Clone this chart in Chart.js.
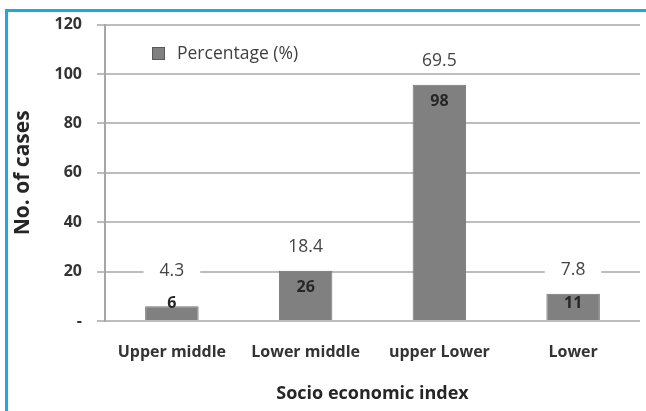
<!DOCTYPE html>
<html>
<head>
<meta charset="utf-8">
<script src="https://cdn.jsdelivr.net/npm/chart.js@4.4.1/dist/chart.umd.min.js"></script>
<style>
  html, body { margin:0; padding:0; background:#fff; overflow:hidden; }
  #wrap { position:relative; width:646px; height:411px; }
  #frame { position:absolute; left:5px; top:9px; width:700px; height:500px;
           border-left:3px solid #19a9e5; border-top:3px solid #19a9e5; pointer-events:none; }
  canvas { position:absolute; left:0; top:0; }
</style>
</head>
<body>
<div id="wrap">
  <canvas id="c" width="646" height="411"></canvas>
  <div id="frame"></div>
</div>
<script>
// ---- data ----
const categories   = ['Upper middle', 'Lower middle', 'upper Lower', 'Lower'];
const barHeights   = [6, 20.3, 95.6, 11];          // bar tops as drawn
const caseLabels   = ['6', '26', '98', '11'];      // labels inside bars
const percentLabels = ['4.3', '18.4', '69.5', '7.8'];
const yTickLabels  = { 0: '-', 20: '20', 40: '40', 60: '60', 80: '80', 100: '100', 120: '120' };
const seriesName   = 'Percentage (%)';

const FONT = "'Open Sans', 'DejaVu Sans', sans-serif";

const labelPlugin = {
  id: 'labels',
  afterDatasetsDraw(chart) {
    const ctx = chart.ctx;
    const meta = chart.getDatasetMeta(0);
    const base = chart.scales.y.getPixelForValue(0);
    ctx.save();
    meta.data.forEach((bar, i) => {
      const x = bar.x, top = bar.y;
      // count label
      const cy = Math.min(top + 17, base - 18);
      ctx.font = "bold 16px " + FONT;
      ctx.fillStyle = '#262626';
      ctx.textAlign = 'center';
      ctx.textBaseline = 'middle';
      ctx.fillText(caseLabels[i], x, cy);
      // percent label with white box
      const py = Math.min(top, cy - 8) - 24;
      ctx.font = "17.5px " + FONT;
      const w = ctx.measureText(percentLabels[i]).width + 32;
      ctx.fillStyle = '#ffffff';
      ctx.fillRect(x - w / 2, py - 11, w, 22);
      ctx.fillStyle = '#444444';
      ctx.fillText(percentLabels[i], x, py);
    });
    // legend inside plot
    ctx.fillStyle = '#808080';
    ctx.strokeStyle = '#5a5a5a';
    ctx.lineWidth = 1;
    ctx.fillRect(152, 47, 13, 13);
    ctx.strokeRect(152.5, 47.5, 12, 12);
    ctx.font = "17.5px " + FONT;
    ctx.fillStyle = '#404040';
    ctx.textAlign = 'left';
    ctx.textBaseline = 'middle';
    ctx.fillText(seriesName, 177, 54);
    ctx.restore();
  }
};

new Chart(document.getElementById('c'), {
  type: 'bar',
  data: {
    labels: categories,
    datasets: [{
      label: seriesName,
      data: barHeights,
      backgroundColor: '#808080',
      borderColor: '#747474',
      borderWidth: 1,
      barPercentage: 0.4,
      categoryPercentage: 1.0
    }]
  },
  options: {
    responsive: false,
    animation: false,
    devicePixelRatio: 1,
    layout: { padding: { top: 24, right: 6, left: 0, bottom: 0 } },
    plugins: { legend: { display: false }, tooltip: { enabled: false } },
    scales: {
      x: {
        grid: { display: false, drawTicks: false },
        border: { display: false },
        ticks: { color: '#333333', font: { family: FONT, size: 16, weight: 'bold' }, padding: 22, maxRotation: 0 },
        title: { display: true, text: 'Socio economic index', color: '#262626',
                 font: { family: FONT, size: 18, weight: 'bold' }, padding: { top: 6, bottom: 6 } },
        afterFit(s) { s.height = 90; }
      },
      y: {
        min: 0, max: 120,
        grid: { color: '#bdbdbd', lineWidth: 2, tickLength: 8, drawTicks: true },
        border: { display: true, color: '#a6a6a6', width: 2 },
        ticks: {
          stepSize: 20, padding: 15, color: '#333333',
          font: { family: FONT, size: 16, weight: 'bold' },
          callback: (v) => yTickLabels[v] !== undefined ? yTickLabels[v] : ''
        },
        title: { display: true, text: 'No. of cases', color: '#262626',
                 font: { family: FONT, size: 21, weight: 'bold' }, padding: { top: 10, bottom: 10 } },
        afterFit(s) { s.width = 105; }
      }
    }
  },
  plugins: [labelPlugin]
});
</script>
</body>
</html>
